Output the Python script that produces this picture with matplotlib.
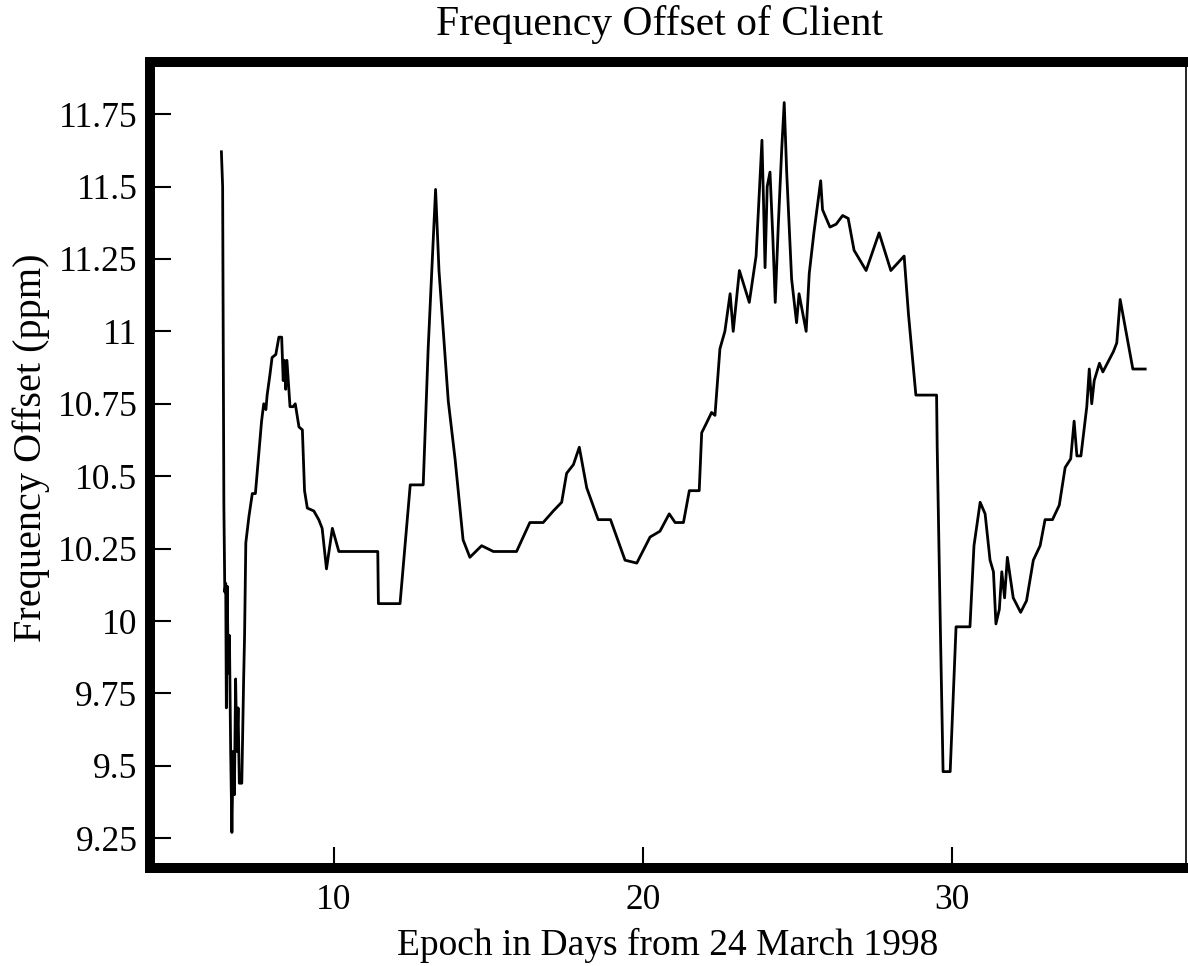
import matplotlib
matplotlib.use("Agg")
import matplotlib.pyplot as plt

# Epoch (days from 24 March 1998) and client frequency offset (ppm)
days = [
    6.36, 6.40, 6.44, 6.47, 6.50, 6.52, 6.55, 6.58, 6.62, 6.66, 6.70, 6.74, 6.78, 6.82,
    6.86, 6.90, 6.94, 7.02, 7.08, 7.11, 7.15, 7.25, 7.36, 7.46, 7.54, 7.66, 7.73, 7.80,
    7.84, 7.93, 8.00, 8.12, 8.22, 8.31, 8.36, 8.40, 8.44, 8.48, 8.58, 8.68, 8.75, 8.87,
    8.98, 9.05, 9.14, 9.35, 9.51, 9.62, 9.76, 9.95, 10.16, 11.42, 11.44, 12.14, 12.47,
    12.89, 13.05, 13.29, 13.40, 13.70, 13.92, 14.18, 14.40, 14.78, 15.16, 15.91, 16.34,
    16.77, 17.10, 17.37, 17.53, 17.75, 17.94, 18.18, 18.55, 18.95, 19.42, 19.80, 20.23,
    20.55, 20.85, 21.04, 21.31, 21.50, 21.82, 21.90, 22.04, 22.22, 22.33, 22.49, 22.65,
    22.82, 22.92, 23.12, 23.44, 23.66, 23.85, 23.90, 23.95, 24.02, 24.11, 24.20, 24.28,
    24.38, 24.49, 24.57, 24.65, 24.81, 24.97, 25.05, 25.28, 25.38, 25.53, 25.75, 25.81,
    26.05, 26.25, 26.46, 26.64, 26.83, 27.22, 27.64, 28.02, 28.45, 28.59, 28.83, 29.50,
    29.52, 29.63, 29.71, 29.94, 30.13, 30.58, 30.71, 30.91, 31.07, 31.23, 31.34, 31.42,
    31.53, 31.61, 31.70, 31.79, 31.98, 32.22, 32.41, 32.63, 32.85, 33.01, 33.25, 33.47,
    33.66, 33.84, 33.95, 34.04, 34.17, 34.36, 34.44, 34.52, 34.60, 34.77, 34.88, 35.22,
    35.33, 35.44, 35.85, 36.25,
]
offset_ppm = [
    11.62, 11.50, 10.40, 10.10, 10.13, 9.70, 10.12, 9.82, 9.95, 9.55, 9.27, 9.55, 9.40, 9.80,
    9.55, 9.70, 9.44, 9.44, 9.80, 9.95, 10.27, 10.36, 10.44, 10.44, 10.54, 10.69, 10.75, 10.73,
    10.78, 10.85, 10.91, 10.92, 10.98, 10.98, 10.83, 10.90, 10.80, 10.90, 10.74, 10.74, 10.75, 10.67,
    10.66, 10.45, 10.39, 10.38, 10.35, 10.32, 10.18, 10.32, 10.24, 10.24, 10.06, 10.06, 10.47,
    10.47, 10.94, 11.49, 11.21, 10.76, 10.56, 10.28, 10.22, 10.26, 10.24, 10.24, 10.34,
    10.34, 10.38, 10.41, 10.51, 10.54, 10.60, 10.46, 10.35, 10.35, 10.21, 10.20, 10.29,
    10.31, 10.37, 10.34, 10.34, 10.45, 10.45, 10.65, 10.68, 10.72, 10.71, 10.94, 11.00,
    11.13, 11.00, 11.21, 11.10, 11.26, 11.66, 11.45, 11.22, 11.50, 11.55, 11.33, 11.10,
    11.37, 11.63, 11.79, 11.55, 11.18, 11.03, 11.13, 11.00, 11.20, 11.34, 11.52, 11.42,
    11.36, 11.37, 11.40, 11.39, 11.28, 11.21, 11.34, 11.21, 11.26, 11.06, 10.78, 10.78,
    10.60, 9.93, 9.48, 9.48, 9.98, 9.98, 10.26, 10.41, 10.37, 10.21, 10.17, 9.99,
    10.04, 10.17, 10.08, 10.22, 10.08, 10.03, 10.07, 10.21, 10.26, 10.35, 10.35, 10.40,
    10.53, 10.56, 10.69, 10.57, 10.57, 10.74, 10.87, 10.75, 10.83, 10.89, 10.86, 10.93,
    10.96, 11.11, 10.87, 10.87,
]

x_ticks = [10, 20, 30]
y_ticks = [9.25, 9.5, 9.75, 10, 10.25, 10.5, 10.75, 11, 11.25, 11.5, 11.75]
y_tick_labels = ["9.25", "9.5", "9.75", "10", "10.25", "10.5", "10.75", "11", "11.25", "11.5", "11.75"]

plt.rcParams["font.family"] = ["Liberation Serif", "DejaVu Serif"]

W, H = 1188, 966
fig = plt.figure(figsize=(W / 100, H / 100), dpi=100)
ax = fig.add_axes([150 / W, 1 - 867.5 / H, (1186 - 150) / W, (867.5 - 62) / H])

ax.plot(days, offset_ppm, color="black", linewidth=2.0)

ax.set_xlim(4.05, 37.57)
ax.set_ylim(9.149, 11.93)
ax.set_xticks(x_ticks)
ax.set_yticks(y_ticks)
ax.set_yticklabels(y_tick_labels)

for side in ["left", "top", "bottom"]:
    ax.spines[side].set_linewidth(7.2)
ax.spines["right"].set_linewidth(1.2)

ax.tick_params(axis="both", direction="in", length=15, width=1.5, labelsize=25.5, pad=9)
ax.tick_params(axis="y", right=False)
ax.tick_params(axis="x", top=False, pad=12)

ax.set_xlabel("Epoch in Days from 24 March 1998", fontsize=27, labelpad=8)
ax.set_ylabel("Frequency Offset (ppm)", fontsize=29)
ax.yaxis.set_label_coords(-0.0965, 0.521)
fig.text(659 / W, 1 - 25 / H, "Frequency Offset of Client", fontsize=30, ha="center", va="center")

fig.savefig("out.png", dpi=100)
